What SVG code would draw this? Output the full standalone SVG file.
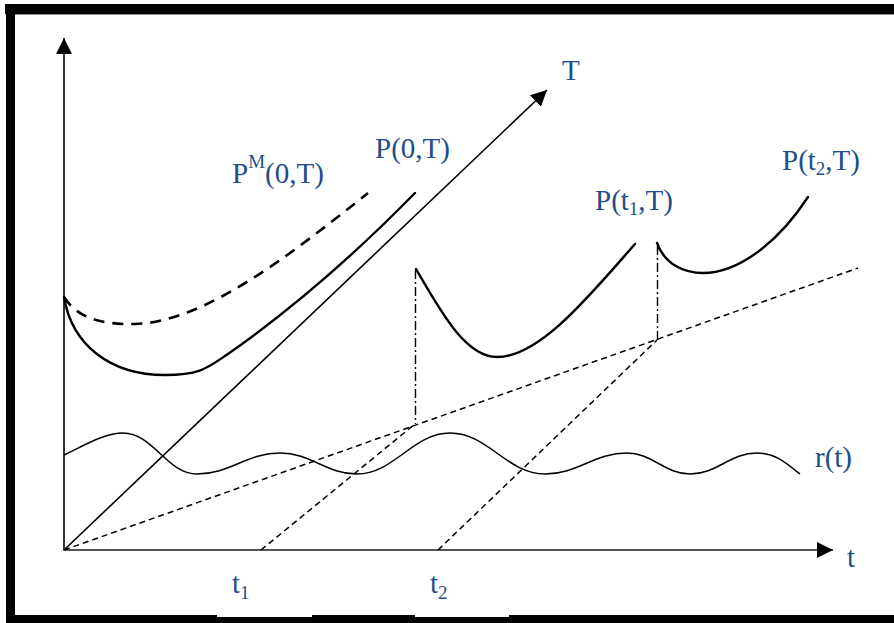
<svg xmlns="http://www.w3.org/2000/svg" width="894" height="623" viewBox="0 0 894 623">
<defs>
<marker id="arr" markerUnits="userSpaceOnUse" markerWidth="16" markerHeight="16" refX="16" refY="8" orient="auto" viewBox="0 0 16 16">
<path d="M0,0 L16,8 L0,16 z" fill="#000"/>
</marker>
<style>
.ax{stroke:#000;stroke-width:1.6;fill:none}
.hax{stroke:#555;stroke-width:2.2;fill:none}
.pc{stroke:#000;stroke-width:2.4;fill:none;stroke-linecap:round}
.pm{stroke:#000;stroke-width:2.6;fill:none;stroke-dasharray:11 8}
.rt{stroke:#000;stroke-width:1.5;fill:none}
.dl{stroke:#000;stroke-width:1.5;fill:none;stroke-dasharray:6 4}
.dd{stroke:#000;stroke-width:1.4;fill:none;stroke-dasharray:9 3 2 3}
.lb{font-family:"Liberation Serif","Times New Roman",serif;font-size:29px;fill:#1f4e89}
.sb{font-size:19px}
</style>
</defs>
<rect width="894" height="623" fill="#fff"/>
<g id="frame">
<rect x="5" y="4" width="889" height="10" fill="#000"/>
<rect x="6" y="4" width="9" height="619" fill="#000"/>
<rect x="6" y="615" width="888" height="8" fill="#000"/>
<rect x="217" y="615" width="95" height="2" fill="#fff"/>
<rect x="415" y="615" width="94" height="2" fill="#fff"/>
<line x1="15" y1="14.5" x2="894" y2="14.5" stroke="#888" stroke-width="1"/>
</g>
<g id="connectors">
<line id="axis-y" class="ax" x1="64" y1="551" x2="64" y2="38" marker-end="url(#arr)"/>
<line id="axis-t" class="hax" x1="63" y1="550" x2="833" y2="550" marker-end="url(#arr)"/>
<line id="axis-T" class="ax" x1="64" y1="550" x2="547" y2="90" marker-end="url(#arr)"/>
<line class="dl" x1="64" y1="550" x2="858" y2="268"/>
<line class="dl" x1="261" y1="550" x2="415" y2="424"/>
<line class="dl" x1="438" y1="550" x2="657" y2="340"/>
<line class="dd" x1="415.5" y1="270" x2="415.5" y2="424"/>
<line class="dd" x1="657.5" y1="246" x2="657.5" y2="340"/>
</g>
<g id="curve-PM">
<path class="pm" d="M64,297 C76,316 98,325 135,324 C205,322 290,255 368,193"/>
</g>
<g id="curve-P0">
<path class="pc" d="M64,297 C72,345 110,375 165,375 C198,375 206,369 225,356 Q320,290 415,193"/>
</g>
<g id="curve-Pt1">
<path class="pc" d="M416,269 C440,310 465,357 497,357 C540,357 590,295 635,244"/>
</g>
<g id="curve-Pt2">
<path class="pc" d="M657,243 C665,265 685,273 703,273 C740,273 780,240 808,197"/>
</g>
<g id="curve-r">
<path class="rt" d="M64,455 C85,445 105,433 123,433 C153,433 167,474 197,474 C230,474 247,453 280,453 C311,453 326,474 357,474 C394,474 413,433 450,433 C488,433 507,474 545,474 C578,474 594,453 627,453 C652,453 665,474 690,474 C717,474 730,453 757,453 C775,453 785,462 800,474"/>
</g>
<g id="labels">
<text class="lb" x="562" y="80">T</text>
<text class="lb" x="232" y="183">P<tspan class="sb" dy="-15">M</tspan><tspan dy="15">(0,T)</tspan></text>
<text class="lb" x="375" y="158">P(0,T)</text>
<text class="lb" x="595" y="210">P(t<tspan class="sb" dy="5">1</tspan><tspan dy="-5">,T)</tspan></text>
<text class="lb" x="782" y="170">P(t<tspan class="sb" dy="5">2</tspan><tspan dy="-5">,T)</tspan></text>
<text class="lb" x="815" y="467">r(t)</text>
<text class="lb" x="847" y="567">t</text>
<text class="lb" x="232" y="593">t<tspan class="sb" dy="6">1</tspan></text>
<text class="lb" x="430" y="593">t<tspan class="sb" dy="6">2</tspan></text>
</g>
</svg>
